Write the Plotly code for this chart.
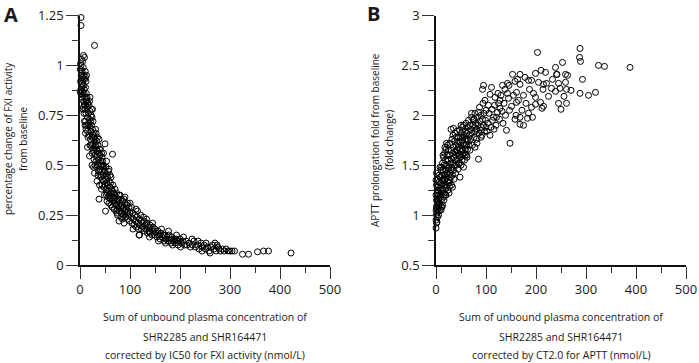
import plotly.graph_objects as go

# ---------------- data ----------------
# Panel A: percentage change of FXI activity vs concentration / IC50
fxi_points = [
    (0.5,0.98),(1,0.92),(1.5,0.86),(2,1.0),(2.5,0.95),(3,0.89),(3,1.03),(3.5,0.84),(4,0.97),(4.5,0.91),
    (5,0.87),(5,1.02),(5.5,0.94),(6,0.85),(6.5,0.99),(7,0.9),(7.5,0.82),(8,0.95),(8.5,0.88),(9,1.04),
    (9.5,0.93),(10,0.84),(10.5,0.97),(11,0.89),(11.5,0.8),(12,0.92),(12.5,0.86),(13,0.95),(2,0.88),(4,0.83),
    (6,0.93),(8,0.86),(1,1.01),(7,1.05),(9,0.8),(0.5,0.87),(3,0.96),(5,0.9),(11,0.94),(13,0.83),
    (10,0.78),(11,0.72),(12,0.76),(13,0.7),(14,0.79),(15,0.74),(15,0.67),(16,0.81),(17,0.71),(17,0.76),
    (18,0.65),(18,0.8),(19,0.73),(20,0.69),(20,0.77),(21,0.63),(21,0.72),(22,0.75),(22,0.67),(23,0.7),
    (24,0.64),(24,0.74),(25,0.68),(25,0.6),(14,0.84),(16,0.64),(19,0.82),(12,0.68),(13,0.82),(23,0.78),
    (26,0.72),(8,0.76),(9,0.72),(7,0.79),(11,0.66),(15,0.59),(20,0.6),
    (26,0.65),(27,0.61),(27,0.57),(28,0.66),(29,0.59),(30,0.63),(30,0.55),(31,0.6),(32,0.52),(32,0.66),
    (33,0.58),(34,0.62),(34,0.54),(35,0.5),(35,0.57),(36,0.6),(37,0.53),(37,0.47),(38,0.56),(38,0.63),
    (39,0.51),(40,0.55),(40,0.48),(41,0.58),(42,0.52),(42,0.45),(43,0.5),(44,0.54),(44,0.47),(45,0.43),
    (28,0.53),(31,0.68),(33,0.49),(36,0.45),(39,0.58),(41,0.44),(26,0.58),(29,0.64),(35,0.64),(43,0.56),
    (45,0.52),(24,0.56),(22,0.6),(30,0.5),(46,0.49),
    (24,0.5),(27,0.49),(29,0.46),(47,0.56),(53,0.52),(58,0.48),(60,0.45),(34,0.42),(39,0.4),(43,0.38),
    (49,0.35),(54,0.32),(62,0.3),(68,0.28),(74,0.26),(16,0.7),(20,0.84),(25,0.78),(10,0.7),(6,0.78),
    (46,0.45),(47,0.42),(48,0.48),(49,0.44),(50,0.4),(50,0.47),(51,0.43),(52,0.38),(53,0.45),(54,0.41),
    (55,0.36),(55,0.44),(56,0.4),(57,0.37),(58,0.42),(59,0.35),(60,0.39),(60,0.33),(61,0.41),(62,0.36),
    (63,0.38),(64,0.34),(65,0.37),(66,0.32),(67,0.36),(68,0.33),(69,0.35),(70,0.31),(48,0.39),(52,0.49),
    (57,0.47),(62,0.44),(66,0.4),(70,0.38),(53,0.35),(58,0.31),(64,0.29),(47,0.5),(44,0.4),(56,0.34),
    (71,0.34),(72,0.3),(73,0.36),(74,0.32),(75,0.28),(76,0.33),(77,0.3),(78,0.35),(79,0.27),(80,0.31),
    (81,0.29),(82,0.33),(83,0.26),(84,0.3),(85,0.28),(86,0.32),(87,0.25),(88,0.29),(89,0.27),(90,0.31),
    (91,0.24),(92,0.28),(93,0.26),(94,0.3),(95,0.23),(96,0.27),(97,0.25),(98,0.29),(99,0.22),(100,0.26),
    (75,0.25),(80,0.35),(85,0.23),(90,0.34),(95,0.31),(100,0.31),(78,0.22),(88,0.21),(72,0.27),(82,0.24),
    (102,0.24),(104,0.21),(105,0.26),(107,0.23),(108,0.2),(110,0.25),(111,0.22),(113,0.19),(114,0.24),(116,0.21),
    (117,0.18),(119,0.23),(120,0.2),(122,0.22),(123,0.18),(125,0.21),(126,0.19),(128,0.22),(129,0.17),(131,0.2),
    (132,0.18),(134,0.21),(135,0.16),(137,0.19),(138,0.17),(140,0.2),(141,0.16),(143,0.18),(144,0.15),(146,0.19),
    (147,0.17),(149,0.15),(150,0.18),(106,0.18),(115,0.27),(121,0.25),(127,0.24),(133,0.23),(139,0.14),(145,0.21),
    (118,0.15),(112,0.28),(103,0.29),
    (152,0.16),(154,0.14),(156,0.17),(158,0.15),(160,0.13),(162,0.16),(164,0.14),(166,0.15),(168,0.12),(170,0.15),
    (172,0.13),(174,0.14),(176,0.12),(178,0.15),(180,0.13),(182,0.11),(184,0.14),(186,0.12),(188,0.13),(190,0.11),
    (192,0.13),(194,0.12),(196,0.1),(198,0.12),(200,0.13),(203,0.11),(206,0.12),(209,0.1),(157,0.12),(163,0.18),
    (171,0.11),(177,0.17),(185,0.1),(193,0.15),(201,0.09),(207,0.14),(212,0.12),
    (214,0.1),(218,0.11),(221,0.09),(225,0.1),(228,0.12),(231,0.09),(235,0.1),(238,0.08),(242,0.11),(245,0.09),
    (248,0.1),(251,0.08),(255,0.09),(258,0.07),(262,0.09),(265,0.1),(268,0.08),(270,0.11),(272,0.07),(275,0.09),
    (278,0.08),(281,0.07),(285,0.08),(288,0.07),(292,0.08),(296,0.07),(300,0.07),(304,0.07),(309,0.07),(224,0.13),
    (236,0.12),(252,0.11),(260,0.06),(244,0.07),(274,0.1),
    (2,1.24),(2,1.2),(29,1.1),(65,0.555),(50,0.607),(38,0.33),(51,0.27),(19,0.546),(325,0.054),(337,0.054),
    (355,0.066),(367,0.07),(377,0.07),(422,0.06),(88,0.33),(119,0.15),
]

# Panel B: APTT prolongation fold vs concentration / CT2.0
aptt_points = [
    (0,0.87),(1,0.92),(0,0.95),(1,1.0),(0,1.05),(2,1.1),(1,1.15),(0,1.2),(2,1.25),(1,1.3),
    (0,1.35),(1,1.42),(3,0.98),(3,1.06),(4,1.13),(3,1.2),(4,1.28),(5,1.0),(5,1.08),(6,1.17),
    (5,1.24),(6,1.33),(7,1.05),(7,1.12),(8,1.2),(7,1.27),(8,1.38),(9,1.1),(9,1.18),(10,1.25),
    (9,1.32),(10,1.45),(2,0.93),(4,1.04),(6,1.4),(8,1.48),(3,1.36),(10,1.05),(2,1.02),(5,1.16),
    (1,1.08),(6,1.1),(4,1.22),
    (11,1.15),(11,1.3),(12,1.22),(12,1.4),(13,1.1),(13,1.35),(13,1.52),(14,1.26),(14,1.45),(15,1.18),
    (15,1.32),(15,1.58),(16,1.4),(16,1.5),(17,1.22),(17,1.36),(17,1.62),(18,1.3),(18,1.46),(19,1.55),
    (19,1.2),(20,1.38),(20,1.66),(21,1.28),(21,1.5),(22,1.42),(22,1.6),(23,1.34),(23,1.7),(24,1.47),
    (24,1.25),(25,1.55),(25,1.4),(12,1.08),(14,1.6),(16,1.15),(18,1.68),(20,1.2),(22,1.3),(11,1.48),
    (19,1.4),(21,1.72),(23,1.56),(25,1.65),
    (26,1.32),(26,1.48),(27,1.29),(27,1.6),(28,1.42),(28,1.72),(29,1.52),(29,1.38),(30,1.65),(30,1.45),
    (31,1.3),(31,1.56),(32,1.76),(32,1.48),(33,1.62),(33,1.4),(34,1.52),(34,1.8),(35,1.68),(35,1.45),
    (36,1.58),(36,1.36),(37,1.74),(37,1.5),(38,1.63),(38,1.82),(39,1.55),(39,1.42),(40,1.7),(40,1.6),
    (41,1.5),(41,1.78),(42,1.65),(42,1.84),(43,1.56),(43,1.72),(44,1.46),(44,1.62),(45,1.78),(45,1.68),
    (26,1.22),(30,1.86),(35,1.87),(33,1.28),(28,1.35),
    (46,1.6),(46,1.74),(47,1.52),(47,1.85),(48,1.66),(48,1.38),(49,1.78),(49,1.58),(50,1.7),(50,1.5),
    (51,1.82),(51,1.64),(52,1.74),(52,1.55),(53,1.88),(53,1.66),(54,1.78),(54,1.6),(55,1.72),(55,1.9),
    (56,1.62),(56,1.8),(57,1.7),(57,1.55),(58,1.6),(58,1.84),(59,1.76),(59,1.66),(60,1.92),(60,1.7),
    (61,1.6),(61,1.82),(62,1.76),(63,1.88),(63,1.66),(64,1.74),(65,1.84),(65,1.95),(55,1.48),(62,1.58),
    (50,1.9),(45,1.52),
    (66,1.7),(67,1.8),(68,1.9),(69,1.76),(70,1.86),(71,1.98),(72,1.82),(73,1.7),(74,1.9),(75,1.95),
    (76,1.78),(77,1.88),(78,2.02),(79,1.84),(80,1.92),(81,1.76),(82,1.86),(83,1.98),(84,1.9),(85,1.56),
    (86,1.82),(87,2.08),(88,1.94),(89,1.85),(90,2.0),(91,1.88),(92,1.8),(93,1.96),(94,2.12),(95,2.3),
    (95,1.9),(96,2.02),(97,1.84),(98,2.15),(99,1.95),(100,2.05),(71,2.02),(78,1.68),(85,2.03),(93,2.26),
    (100,1.88),(68,1.65),(76,1.96),(82,1.72),(90,1.78),
    (105,2.1),(108,2.21),(108,1.8),(111,2.28),(113,1.95),(118,2.18),(121,1.98),(128,2.15),(128,2.07),(138,2.26),
    (141,1.85),(143,2.22),(143,2.32),(145,2.17),(147,2.05),(148,1.72),(151,2.09),(153,2.41),(158,2.34),(161,2.23),
    (161,2.13),(104,1.92),(106,2.02),(110,1.88),(112,2.06),(115,1.98),(117,2.1),(120,1.9),(123,2.03),(125,2.12),
    (127,1.96),(130,2.2),(132,2.04),(134,1.92),(136,2.12),(139,2.0),(102,1.84),(116,1.86),(124,2.22),(133,2.3),
    (146,2.3),
    (168,2.41),(168,2.31),(168,1.98),(168,1.91),(175,2.2),(178,2.38),(183,1.97),(185,2.35),(187,2.26),(191,2.35),
    (191,2.08),(193,1.98),(199,2.42),(199,2.18),(199,2.11),(203,2.63),(205,2.33),(209,2.13),(210,2.45),(212,2.07),
    (214,2.26),(215,2.09),(215,2.31),(219,2.43),(221,2.32),(225,2.19),(231,2.27),(233,2.36),(239,2.48),(239,2.24),
    (241,2.41),(242,2.41),(245,2.32),(245,2.12),(248,2.27),(250,2.06),(253,2.53),(256,2.19),(259,2.41),(259,2.33),
    (261,2.12),(263,2.40),(261,2.26),(270,2.25),(287,2.58),(288,2.67),(289,2.54),(288,2.22),(293,2.36),(305,2.2),
    (319,2.23),(325,2.5),(337,2.49),(388,2.48),(155,2.2),(160,2.0),(165,2.15),(172,2.05),(180,2.12),(175,1.9),
    (195,2.22),(163,2.36),(158,1.96),(185,2.02),
]

x_ticks = [0, 100, 200, 300, 400, 500]
fxi_y_ticks = [0, 0.25, 0.5, 0.75, 1, 1.25]
aptt_y_ticks = [0.5, 1, 1.5, 2, 2.5, 3]

xa = [p[0] for p in fxi_points]
ya = [p[1] for p in fxi_points]
xb = [p[0] for p in aptt_points]
yb = [p[1] for p in aptt_points]

# ---------------- figure ----------------
W, H = 699, 363
FONT = "Open Sans"
TXT = "#1a1a1a"

def px(x):
    return x / W

def py(y):
    return 1 - y / H

fig = go.Figure()
marker = dict(symbol="circle-open", size=6, color="black", line=dict(width=1, color="black"))
fig.add_trace(go.Scatter(x=xa, y=ya, mode="markers", marker=marker, cliponaxis=False,
                         xaxis="x", yaxis="y", showlegend=False, hoverinfo="skip"))
fig.add_trace(go.Scatter(x=xb, y=yb, mode="markers", marker=marker, cliponaxis=False,
                         xaxis="x2", yaxis="y2", showlegend=False, hoverinfo="skip"))

def xaxis(dom, anchor):
    return dict(domain=dom, anchor=anchor, range=[0, 500], tickvals=x_ticks, automargin=False,
                showgrid=False, zeroline=False, showline=True, linecolor="#111", linewidth=1.5,
                ticks="outside", ticklen=12, tickwidth=1.2, tickcolor="#333",
                tickfont=dict(family=FONT, size=13, color=TXT),
                minor=dict(dtick=50, tick0=0, ticks="outside", ticklen=6, tickwidth=1.2,
                           tickcolor="#333", showgrid=False))

def yaxis(dom, anchor, rng, vals, minor_dt):
    return dict(domain=dom, anchor=anchor, range=rng, tickvals=vals, automargin=False,
                showgrid=False, zeroline=False, showline=True, linecolor="#111", linewidth=1.5,
                ticks="outside", ticklen=12, tickwidth=1.2, tickcolor="#333",
                tickfont=dict(family=FONT, size=13, color=TXT),
                minor=dict(dtick=minor_dt, tick0=0, ticks="outside", ticklen=6, tickwidth=1.2,
                           tickcolor="#333", showgrid=False))

ydom = [py(265), py(15.5)]
fig.update_layout(
    width=W, height=H,
    margin=dict(l=0, r=0, t=0, b=0, autoexpand=False),
    paper_bgcolor="white", plot_bgcolor="white",
    xaxis=xaxis([px(80), px(330)], "y"),
    yaxis=yaxis(ydom, "x", [0, 1.25], fxi_y_ticks, 0.125),
    xaxis2=xaxis([px(436), px(686)], "y2"),
    yaxis2=yaxis(ydom, "x2", [0.5, 3], aptt_y_ticks, 0.25),
)

ann = []
def text(x, y, s, size=11, angle=0, bold=False, xanchor="center"):
    ann.append(dict(x=px(x), y=py(y), xref="paper", yref="paper", text=("<b>%s</b>" % s) if bold else s,
                    showarrow=False, textangle=angle, xanchor=xanchor, yanchor="middle",
                    font=dict(family=FONT, size=size, color=TXT)))

# panel letters
text(2, 15, "A", size=20, bold=True, xanchor="left")
text(365, 14, "B", size=20, bold=True, xanchor="left")
# x titles
for cx, lines in [(205, ["Sum of unbound plasma concentration of", "SHR2285 and SHR164471",
                         "corrected by IC50 for FXI activity (nmol/L)"]),
                  (561, ["Sum of unbound plasma concentration of", "SHR2285 and SHR164471",
                         "corrected by CT2.0 for APTT (nmol/L)"])]:
    for yy, s in zip([317, 337, 355], lines):
        text(cx, yy, s, size=10.5)
# y titles
text(8, 139, "percentage change of FXI activity", size=10, angle=-90)
text(23, 139, "from baseline", size=10, angle=-90)
text(375, 140, "APTT prolongation fold from baseline", size=10, angle=-90)
text(389, 140, "(fold change)", size=10, angle=-90)

fig.update_layout(annotations=ann)
fig.write_html("out.html", config={"displayModeBar": False},
               post_script="document.body.style.margin='0';document.body.style.overflow='hidden';")
